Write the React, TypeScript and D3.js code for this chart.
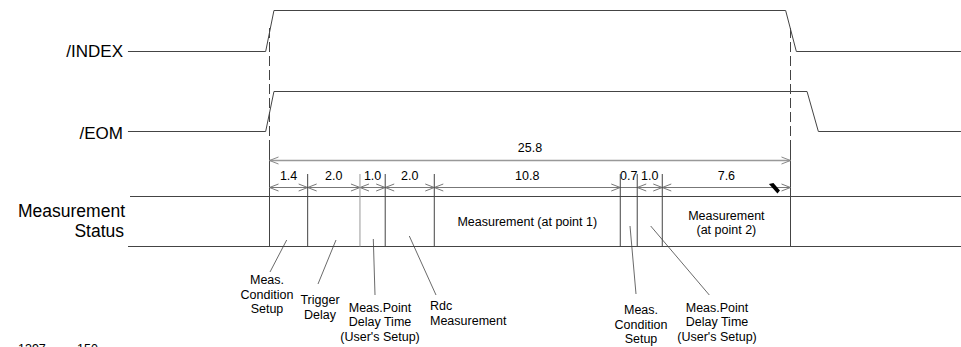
import React from "react";
import * as d3 from "d3";

// ---- data ----
const signalNames = ["/INDEX", "/EOM"];
// waveform vertices: [time, level]
const indexWave: [number, number][] = [[-7.01, 0], [-0.19, 0], [0.22, 1], [25.56, 1], [26.09, 0], [34.24, 0]];
const eomWave: [number, number][] = [[-7.01, 0], [-0.19, 0], [0.22, 1], [26.62, 1], [27.18, 0], [34.24, 0]];
const totalLabel = "25.8";
const totalSpan = [0, 25.8];
// schematic boundary positions (not to scale with labels)
const boundaries = [0, 1.89, 4.48, 5.73, 8.16, 17.37, 18.21, 19.45, 25.8];
const segmentLabels = ["1.4", "2.0", "1.0", "2.0", "10.8", "0.7", "1.0", "7.6"];
const statusTitle = ["Measurement", "Status"];
const boxTexts = [["Measurement (at point 1)"], ["Measurement", "(at point 2)"]];
const boxTextSegments = [4, 7];
const calloutTexts = [
  ["Meas.", "Condition", "Setup"],
  ["Trigger", "Delay"],
  ["Meas.Point", "Delay Time", "(User's Setup)"],
  ["Rdc", "Measurement"],
  ["Meas.", "Condition", "Setup"],
  ["Meas.Point", "Delay Time", "(User's Setup)"],
];
const footer = ["1397", "150"];
const markerT = 24.98;

// ---- layout (annotation placement) ----
const calloutLayout = [
  { x1: 286.7, y1: 240, x2: 270, y2: 272, tx: 267, ty: 284, anchor: "middle" },
  { x1: 336, y1: 240, x2: 318, y2: 284, tx: 320, ty: 304, anchor: "middle" },
  { x1: 373.3, y1: 239, x2: 375, y2: 295, tx: 380, ty: 311.7, anchor: "middle" },
  { x1: 409.3, y1: 236, x2: 436, y2: 295, tx: 430, ty: 310, anchor: "start" },
  { x1: 630, y1: 226, x2: 636, y2: 294, tx: 641, ty: 314, anchor: "middle" },
  { x1: 650.7, y1: 226, x2: 709.3, y2: 295, tx: 717, ty: 311.7, anchor: "middle" },
];

const W = 961, H = 347;
const FONT = "'Liberation Sans', Arial, sans-serif";
const LINE = "#444";

export default function App() {
  const x = d3.scaleLinear().domain(totalSpan).range([269.5, 790.5]);
  const yIndex = d3.scaleLinear().domain([0, 1]).range([51.5, 10.5]);
  const yEom = d3.scaleLinear().domain([0, 1]).range([131.5, 91.5]);
  const lineIndex = d3.line<[number, number]>().x(d => x(d[0])).y(d => yIndex(d[1]));
  const lineEom = d3.line<[number, number]>().x(d => x(d[0])).y(d => yEom(d[1]));

  const yTotal = 160.5;
  const ySub = 187.5;
  const boxTop = 196.5;
  const boxBot = 246.5;
  const boxLeft = 128;

  const head = (tx: number, ty: number, dir: number, color: string, key: string) => (
    <path key={key} d={`M${tx + dir * 9},${ty - 3.5} L${tx},${ty} L${tx + dir * 9},${ty + 3.5}`}
      fill="none" stroke={color} strokeWidth={1} />
  );

  const subArrows: React.ReactNode[] = [];
  segmentLabels.forEach((lab, i) => {
    const a = x(boundaries[i]), b = x(boundaries[i + 1]);
    if (b - a > 20) {
      subArrows.push(head(a, ySub, 1, "#777", `hl${i}`));
      subArrows.push(head(b, ySub, -1, "#777", `hr${i}`));
    }
    subArrows.push(
      <text key={`sl${i}`} x={(a + b) / 2} y={180} textAnchor="middle" fontSize={12.5} fontFamily={FONT} fill="#000">{lab}</text>
    );
  });

  const mx = x(markerT);

  return (
    <svg width={W} height={H} style={{ position: "absolute", left: 0, top: 0, background: "#fff" }}>
      {/* signal labels */}
      <text x={123} y={57} textAnchor="end" fontSize={17} fontFamily={FONT}>{signalNames[0]}</text>
      <text x={123} y={139} textAnchor="end" fontSize={17} fontFamily={FONT}>{signalNames[1]}</text>
      <path d={lineIndex(indexWave) || ""} fill="none" stroke={LINE} strokeWidth={1} />
      <path d={lineEom(eomWave) || ""} fill="none" stroke={LINE} strokeWidth={1} />

      {/* dashed reference lines */}
      {totalSpan.map((t, i) => (
        <g key={`ref${i}`}>
          <line x1={x(t)} x2={x(t)} y1={28} y2={160} stroke={LINE} strokeDasharray="10,4" />
          <line x1={x(t)} x2={x(t)} y1={150} y2={boxBot} stroke={LINE} />
        </g>
      ))}

      {/* total arrow */}
      <line x1={x(totalSpan[0])} x2={x(totalSpan[1])} y1={yTotal} y2={yTotal} stroke="#999" strokeWidth={1.5} />
      {head(x(totalSpan[0]), yTotal, 1, "#888", "tl")}
      {head(x(totalSpan[1]), yTotal, -1, "#888", "tr")}
      <text x={(x(totalSpan[0]) + x(totalSpan[1])) / 2} y={152} textAnchor="middle" fontSize={12.5} fontFamily={FONT}>{totalLabel}</text>

      {/* sub arrows */}
      <line x1={x(boundaries[0])} x2={x(boundaries[boundaries.length - 1])} y1={ySub} y2={ySub} stroke="#777" strokeWidth={1} />
      {subArrows}
      <path d={`M${mx - 5},${ySub - 3.5} L${mx - 0.5},${ySub - 4.5} L${mx + 6},${ySub + 3} L${mx + 3.5},${ySub + 6} Z`} fill="#000" />

      {/* status box */}
      <line x1={boxLeft + 2} x2={W} y1={boxTop} y2={boxTop} stroke={LINE} />
      <line x1={boxLeft} x2={W} y1={boxBot} y2={boxBot} stroke={LINE} />
      {boundaries.slice(1, -1).map((t, i) => (
        <line key={`b${i}`} x1={x(t)} x2={x(t)} y1={174} y2={boxBot} stroke={i === 1 ? "#999" : LINE} />
      ))}
      <text x={125} y={216.7} textAnchor="end" fontSize={17.5} fontFamily={FONT}>{statusTitle[0]}</text>
      <text x={124} y={236.7} textAnchor="end" fontSize={17.5} fontFamily={FONT}>{statusTitle[1]}</text>

      {boxTexts.map((lines, i) => {
        const s = boxTextSegments[i];
        const cx = (x(boundaries[s]) + x(boundaries[s + 1])) / 2;
        const y0 = lines.length === 1 ? 225.5 : 220;
        return lines.map((ln, j) => (
          <text key={`bt${i}-${j}`} x={cx} y={y0 + j * 13.5} textAnchor="middle" fontSize={12.5} fontFamily={FONT}>{ln}</text>
        ));
      })}

      {/* callouts */}
      {calloutTexts.map((lines, i) => {
        const L = calloutLayout[i];
        return (
          <g key={`c${i}`}>
            <line x1={L.x1} y1={L.y1} x2={L.x2} y2={L.y2} stroke={LINE} strokeWidth={0.8} />
            {lines.map((ln, j) => (
              <text key={j} x={L.tx} y={L.ty + j * 14.5} textAnchor={L.anchor as any} fontSize={12.5} fontFamily={FONT}>{ln}</text>
            ))}
          </g>
        );
      })}

      {/* clipped footer */}
      <text x={18} y={353} fontSize={12.5} fontFamily={FONT}>{footer[0]}</text>
      <text x={77} y={353} fontSize={12.5} fontFamily={FONT}>{footer[1]}</text>
    </svg>
  );
}
